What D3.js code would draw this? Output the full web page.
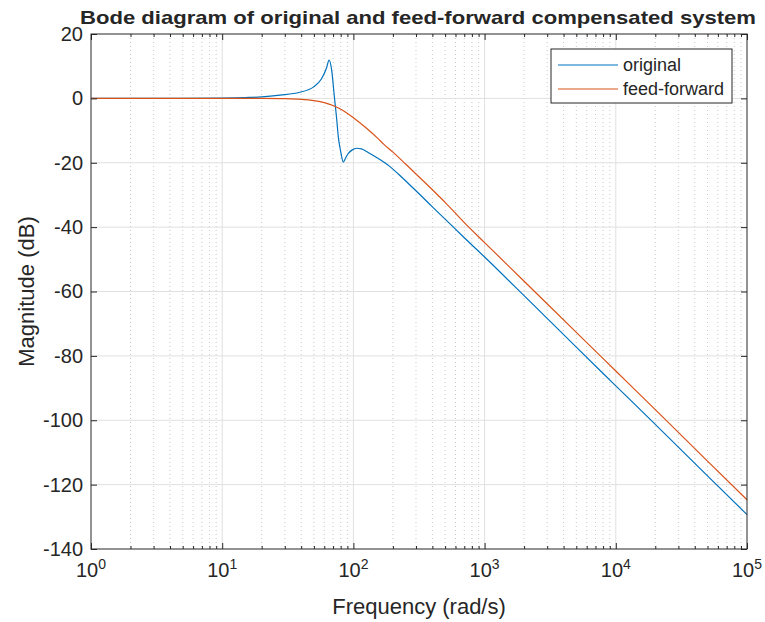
<!DOCTYPE html>
<html>
<head>
<meta charset="utf-8">
<script src="https://cdn.jsdelivr.net/npm/d3@7"></script>
<style>
  body { margin: 0; background: #fff; }
  text { font-family: "Liberation Sans", Arial, Helvetica, sans-serif; fill: #262626; }
</style>
</head>
<body>
<div id="chart"></div>
<script>
// values
const origFreq = [1, 5, 10, 15, 20, 27.6, 39, 49.5, 57, 62.5, 65.2, 68.3, 71.6, 74.7, 76.7, 80, 83.8, 87, 91.5, 98, 106, 115, 126, 145, 169, 190, 220, 260, 300, 400, 500, 700, 1000, 2000, 5000, 10000, 20000, 50000, 100000];
const origMag  = [0, 0.02, 0.1, 0.25, 0.45, 1.0, 1.9, 3.5, 6.0, 9.5, 11.9, 8.8, 0.5, -6.7, -11.9, -16.5, -19.8, -18.6, -17.1, -16.0, -15.5, -15.7, -16.5, -18.0, -19.7, -21.2, -23.5, -26.3, -28.7, -33.7, -37.5, -43.3, -49.3, -61.3, -77.3, -89.3, -101.3, -117.3, -129.3];

const ffFreq = [1, 10, 20, 30, 40, 50, 60, 70, 77, 85, 100, 126, 155, 170, 200, 250, 300, 400, 500, 700, 1000, 2000, 5000, 10000, 20000, 50000, 100000];
const ffMag  = [0, 0, -0.02, -0.1, -0.3, -0.7, -1.3, -2.2, -3.0, -4.0, -6.0, -9.3, -12.6, -14.2, -16.7, -20.4, -23.5, -28.4, -32.3, -38.6, -44.8, -56.8, -72.7, -84.7, -96.7, -112.7, -124.7];

const seriesNames = ["original", "feed-forward"];
const yTicks = [-140, -120, -100, -80, -60, -40, -20, 0, 20];
const xExponents = [0, 1, 2, 3, 4, 5];

const colors = { original: "#0072BD", ff: "#D95319", axis: "#262626" };

const width = 765, height = 622;
const margin = { top: 34, right: 18, bottom: 73, left: 91 };
const w = width - margin.left - margin.right;
const h = height - margin.top - margin.bottom;

const svg = d3.select("#chart").append("svg")
  .attr("width", width)
  .attr("height", height);

const g = svg.append("g")
  .attr("transform", `translate(${margin.left},${margin.top})`);

const x = d3.scaleLog().domain([1, 1e5]).range([0, w]);
const y = d3.scaleLinear().domain([-140, 20]).range([h, 0]);

const majorX = xExponents.map(e => Math.pow(10, e));
const minorX = [];
for (let e = 0; e < 5; e++) {
  for (let m = 2; m <= 9; m++) minorX.push(m * Math.pow(10, e));
}

// minor grid (x only, dotted)
g.append("g")
  .selectAll("line")
  .data(minorX)
  .enter().append("line")
  .attr("x1", d => x(d)).attr("x2", d => x(d))
  .attr("y1", 0).attr("y2", h)
  .attr("stroke", "#c8c8c8")
  .attr("stroke-width", 1)
  .attr("stroke-dasharray", "1,3");

// major grid
g.append("g")
  .selectAll("line")
  .data(majorX.slice(1, -1))
  .enter().append("line")
  .attr("x1", d => x(d)).attr("x2", d => x(d))
  .attr("y1", 0).attr("y2", h)
  .attr("stroke", "#e0e0e0");

g.append("g")
  .selectAll("line")
  .data(yTicks.slice(1, -1))
  .enter().append("line")
  .attr("x1", 0).attr("x2", w)
  .attr("y1", d => y(d)).attr("y2", d => y(d))
  .attr("stroke", "#e0e0e0");

// curves
const line = d3.line()
  .x(d => x(d[0]))
  .y(d => y(d[1]))
  .curve(d3.curveMonotoneX);

const plot = g.append("g");

plot.append("path")
  .datum(origFreq.map((f, i) => [f, origMag[i]]))
  .attr("d", line)
  .attr("fill", "none")
  .attr("stroke", colors.original)
  .attr("stroke-width", 1.2);

plot.append("path")
  .datum(ffFreq.map((f, i) => [f, ffMag[i]]))
  .attr("d", line)
  .attr("fill", "none")
  .attr("stroke", colors.ff)
  .attr("stroke-width", 1.2);

// axes: ticks pointing inward, box on all sides
const styleAxis = sel => {
  sel.select(".domain").remove();
  sel.selectAll(".tick line").attr("stroke", colors.axis);
};

g.append("g").attr("transform", `translate(0,${h})`)
  .call(d3.axisBottom(x).tickValues(majorX).tickSize(-6).tickFormat(""))
  .call(styleAxis);
g.append("g").attr("transform", `translate(0,${h})`)
  .call(d3.axisBottom(x).tickValues(minorX).tickSize(-3).tickFormat(""))
  .call(styleAxis);
g.append("g")
  .call(d3.axisTop(x).tickValues(majorX).tickSize(-6).tickFormat(""))
  .call(styleAxis);
g.append("g")
  .call(d3.axisTop(x).tickValues(minorX).tickSize(-3).tickFormat(""))
  .call(styleAxis);

const yAxis = g.append("g")
  .call(d3.axisLeft(y).tickValues(yTicks).tickSize(-6).tickFormat(d => String(d)))
  .call(styleAxis);
yAxis.selectAll(".tick text")
  .attr("x", -8)
  .style("font-size", "20px")
  .style("font-family", "'Liberation Sans', Arial, sans-serif")
  .attr("fill", colors.axis);

g.append("g").attr("transform", `translate(${w},0)`)
  .call(d3.axisRight(y).tickValues(yTicks).tickSize(-6).tickFormat(""))
  .call(styleAxis);

// x tick labels with superscript exponents
const xl = g.append("g").selectAll("text")
  .data(xExponents)
  .enter().append("text")
  .attr("x", d => x(Math.pow(10, d)))
  .attr("y", h + 28)
  .attr("text-anchor", "middle")
  .style("font-size", "20px");
xl.append("tspan").text("10");
xl.append("tspan")
  .attr("dy", -8)
  .style("font-size", "14px")
  .text(d => d);

// box
g.append("rect")
  .attr("width", w).attr("height", h)
  .attr("fill", "none")
  .attr("stroke", colors.axis)
  .attr("stroke-width", 1);

// labels
svg.append("text")
  .attr("x", margin.left + w / 2)
  .attr("y", height - 8)
  .attr("text-anchor", "middle")
  .style("font-size", "22px")
  .text("Frequency (rad/s)");

svg.append("text")
  .attr("transform", `translate(34,${margin.top + h / 2}) rotate(-90)`)
  .attr("text-anchor", "middle")
  .style("font-size", "22px")
  .text("Magnitude (dB)");

svg.append("text")
  .attr("x", 418)
  .attr("y", 24)
  .attr("text-anchor", "middle")
  .style("font-size", "19px")
  .style("font-weight", "bold")
  .attr("fill", "#000")
  .attr("textLength", 676)
  .attr("lengthAdjust", "spacingAndGlyphs")
  .text("Bode diagram of original and feed-forward compensated system");

// legend
const legend = svg.append("g").attr("transform", "translate(551,49)");
legend.append("rect")
  .attr("width", 181).attr("height", 54)
  .attr("fill", "#fff")
  .attr("stroke", colors.axis);
const legendColors = [colors.original, colors.ff];
seriesNames.forEach((name, i) => {
  const ly = 16 + i * 24;
  legend.append("line")
    .attr("x1", 7).attr("x2", 67)
    .attr("y1", ly).attr("y2", ly)
    .attr("stroke", legendColors[i])
    .attr("stroke-width", 1.2);
  legend.append("text")
    .attr("x", 72).attr("y", ly + 6)
    .style("font-size", "18px")
    .text(name);
});
</script>
</body>
</html>
